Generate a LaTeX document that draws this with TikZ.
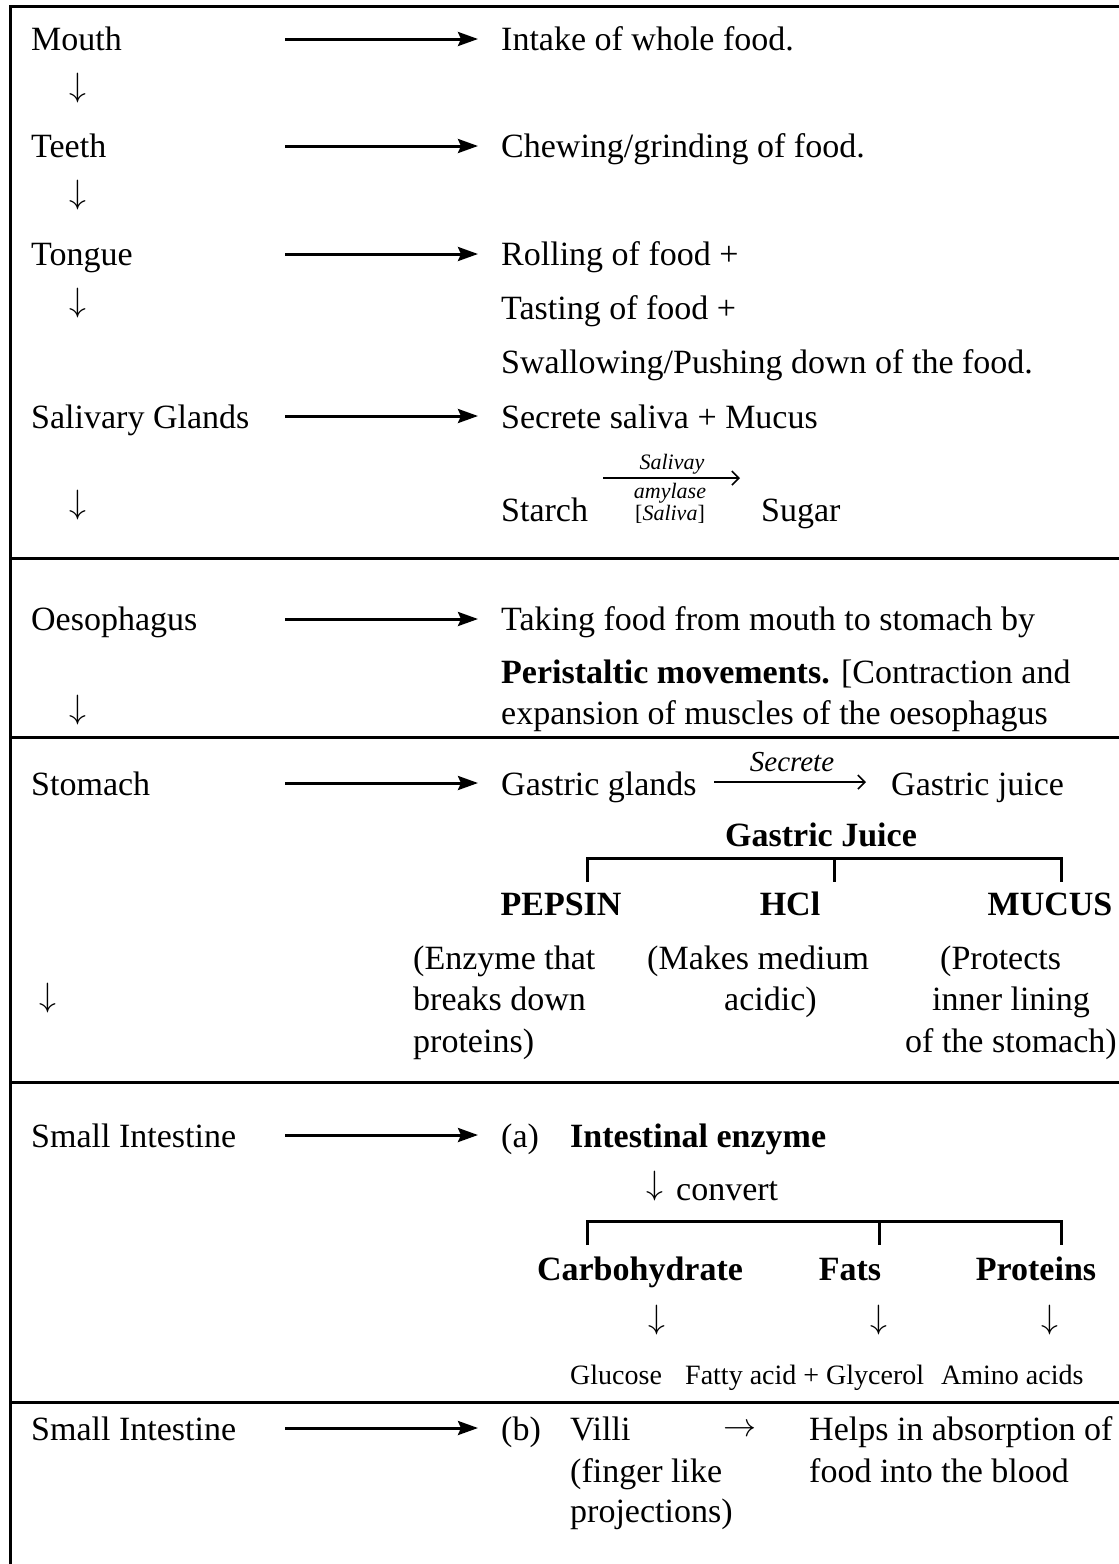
\documentclass[tikz,border=0pt]{standalone}
\usepackage{graphicx}
\usepackage{fontspec}
\setmainfont{Liberation Serif}
\usetikzlibrary{arrows.meta}
\newcommand\bigf{\fontsize{34}{40}\selectfont}
\newcommand\smallf{\fontsize{28}{32}\selectfont}
\newcommand\tinyf{\fontsize{22}{24}\selectfont}
\newcommand\midf{\fontsize{29}{32}\selectfont}
\newcommand\darrow{\resizebox*{!}{30pt}{$\downarrow$}}
\newcommand\rarrow{\resizebox{33pt}{!}{$\rightarrow$}}
\begin{document}
\begin{tikzpicture}[x=1pt,y=-1pt,
  txt/.style={anchor=base west, inner sep=0pt, font=\bigf},
  btxt/.style={anchor=base west, inner sep=0pt, font=\bigf\bfseries},
  stxt/.style={anchor=base west, inner sep=0pt, font=\smallf},
  darr/.style={inner sep=0pt, font=\bigf},
  bigarrow/.style={line width=3pt, -{Stealth[length=20pt,width=14pt,inset=3pt]}, shorten >=23pt},
  thinarrow/.style={line width=1.6pt, -{Straight Barb[length=7pt,width=14pt,line width=1.6pt]}},
  rulebar/.style={line width=3pt},
  bracket/.style={line width=3pt}]
\useasboundingbox (0,0) rectangle (1119,1564);
% frame
\draw[rulebar] (1119,6) -- (10,6) -- (10,1564);
\foreach \yy in {558,737,1082,1402} \draw[rulebar] (10,\yy) -- (1119,\yy);

% left column
\node[txt] (mouth) at (31,50) {Mouth};
\node[darr] (d1) at (78,88) {\darrow};
\node[txt] (teeth) at (31,157) {Teeth};
\node[darr] (d2) at (78,195) {\darrow};
\node[txt] (tongue) at (31,265) {Tongue};
\node[darr] (d3) at (78,303) {\darrow};
\node[txt] (glands) at (31,428) {Salivary Glands};
\node[darr] (d4) at (78,505) {\darrow};
\node[txt] (oes) at (31,630) {Oesophagus};
\node[darr] (d5) at (78,710) {\darrow};
\node[txt] (stomach) at (31,795) {Stomach};
\node[darr] (d6) at (48,998) {\darrow};
\node[txt] (si1) at (31,1147) {Small Intestine};
\node[txt] (si2) at (31,1440) {Small Intestine};

% right column: mouth region
\node[txt] (intake) at (501,50) {Intake of whole food.};
\node[txt] (chew) at (501,157) {Chewing/grinding of food.};
\node[txt] (roll) at (501,265) {Rolling of food +};
\node[txt] (taste) at (501,319) {Tasting of food +};
\node[txt] (swallow) at (501,373) {Swallowing/Pushing down of the food.};
\node[txt] (secrete) at (501,428) {Secrete saliva + Mucus};
\node[txt] (starch) at (501,521) {Starch};
\node[txt] (sugar) at (761,521) {Sugar};
\coordinate (sa0) at (603,478);
\coordinate (sa1) at (740,478);
\draw[thinarrow] (sa0) -- (sa1);
\node[inner sep=0pt, font=\tinyf\itshape] (saliv) at (672,464) {Salivay};
\node[inner sep=0pt, font=\tinyf\itshape] (amyl) at (670,493) {amylase};
\node[inner sep=0pt, font=\tinyf] (salb) at (670,514) {[\textit{Saliva}]};

% oesophagus
\node[txt] (take) at (501,630) {Taking food from mouth to stomach by};
\node[txt] (peri) at (501,683) {\textbf{Peristaltic movements.} [Contraction and};
\node[txt] (expan) at (501,724) {expansion of muscles of the oesophagus};

% stomach
\node[txt] (gglands) at (501,795) {Gastric glands};
\node[txt] (gjuice) at (891,795) {Gastric juice};
\coordinate (se0) at (714,782);
\coordinate (se1) at (866,782);
\draw[thinarrow] (se0) -- (se1);
\node[inner sep=0pt, font=\midf\itshape] (secr) at (792,762) {Secrete};
\node[anchor=base, inner sep=0pt, font=\bigf\bfseries] (gj) at (821,846) {Gastric Juice};
\draw[bracket] (587,882) -- (587,858) -- (1061,858) -- (1061,882);
\draw[bracket] (834,858) -- (834,882);
\node[anchor=base, inner sep=0pt, font=\bigf\bfseries] (pepsin) at (561,915) {PEPSIN};
\node[anchor=base, inner sep=0pt, font=\bigf\bfseries] (hcl) at (790,915) {HCl};
\node[anchor=base, inner sep=0pt, font=\bigf\bfseries] (mucus) at (1050,915) {MUCUS};
\node[txt] (e1) at (413,969) {(Enzyme that};
\node[txt] (e2) at (413,1010) {breaks down};
\node[txt] (e3) at (413,1052) {proteins)};
\node[txt] (h1) at (647,969) {(Makes medium};
\node[txt] (h2) at (724,1010) {acidic)};
\node[txt] (p1) at (940,969) {(Protects};
\node[txt] (p2) at (932,1010) {inner lining};
\node[txt] (p3) at (905,1052) {of the stomach)};

% small intestine (a)
\node[txt] (a) at (501,1147) {(a)};
\node[btxt] (ienz) at (570,1147) {Intestinal enzyme};
\node[darr] (carr) at (655,1186) {\darrow};
\node[txt] (conv) at (676,1200) {convert};
\draw[bracket] (587,1245) -- (587,1221) -- (1061,1221) -- (1061,1245);
\draw[bracket] (879,1221) -- (879,1245);
\node[anchor=base, inner sep=0pt, font=\bigf\bfseries] (carb) at (640,1280) {Carbohydrate};
\node[anchor=base, inner sep=0pt, font=\bigf\bfseries] (fats) at (850,1280) {Fats};
\node[anchor=base, inner sep=0pt, font=\bigf\bfseries] (prot) at (1036,1280) {Proteins};
\node[darr] (dc) at (657,1320) {\darrow};
\node[darr] (df) at (879,1320) {\darrow};
\node[darr] (dp) at (1050,1320) {\darrow};
\node[stxt] (gluc) at (570,1384) {Glucose};
\node[stxt] (fatty) at (685,1384) {Fatty acid + Glycerol};
\node[stxt] (amino) at (941,1384) {Amino acids};

% small intestine (b)
\node[txt] (b) at (501,1440) {(b)};
\node[txt] (villi) at (570,1440) {Villi};
\node[darr] (varr) at (740,1430) {\rarrow};
\node[txt] (helps) at (809,1440) {Helps in absorption of};
\node[txt] (fing) at (570,1482) {(finger like};
\node[txt] (blood) at (809,1482) {food into the blood};
\node[txt] (proj) at (570,1522) {projections)};

% long arrows
\coordinate (m0) at (285,39);
\coordinate (t0) at (285,146);
\coordinate (g0) at (285,254);
\coordinate (s0) at (285,416);
\coordinate (o0) at (285,619);
\coordinate (st0) at (285,783);
\coordinate (i0) at (285,1135);
\coordinate (j0) at (285,1428);
\draw[bigarrow] (m0) -- (m0 -| intake.west);
\draw[bigarrow] (t0) -- (t0 -| chew.west);
\draw[bigarrow] (g0) -- (g0 -| roll.west);
\draw[bigarrow] (s0) -- (s0 -| secrete.west);
\draw[bigarrow] (o0) -- (o0 -| take.west);
\draw[bigarrow] (st0) -- (st0 -| gglands.west);
\draw[bigarrow] (i0) -- (i0 -| a.west);
\draw[bigarrow] (j0) -- (j0 -| b.west);
\end{tikzpicture}
\end{document}
